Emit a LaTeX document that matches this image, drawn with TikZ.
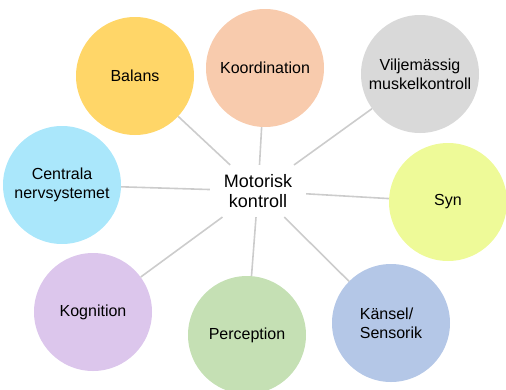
\documentclass[tikz,border=0pt]{standalone}
\usepackage{fontspec}
\setmainfont{Liberation Sans}
\definecolor{cBal}{RGB}{255,214,104}
\definecolor{cKoo}{RGB}{248,203,173}
\definecolor{cVil}{RGB}{217,217,217}
\definecolor{cSyn}{RGB}{238,250,152}
\definecolor{cCen}{RGB}{170,231,251}
\definecolor{cKog}{RGB}{220,198,236}
\definecolor{cPer}{RGB}{197,224,180}
\definecolor{cKan}{RGB}{180,199,231}
\definecolor{cLine}{RGB}{204,204,204}
\begin{document}
\begin{tikzpicture}[x=1pt,y=-1pt,
  bubble/.style={circle,minimum size=118pt,inner sep=0pt,align=center,
    font=\fontsize{16}{19}\selectfont},
  conn/.style={draw=cLine,line width=1.6pt}]
\useasboundingbox (0,0) rectangle (506,389);
\node[align=center,font=\fontsize{18}{20.5}\selectfont,inner xsep=14pt,inner ysep=9pt] (mk) at (258,191) {Motorisk\\kontroll};
\node[bubble,fill=cBal] (bal) at (135,76) {Balans};
\node[bubble,fill=cKoo] (koo) at (265,68) {Koordination};
\node[bubble,fill=cVil] (vil) at (420,74) {Viljemässig\\muskelkontroll};
\node[bubble,fill=cCen] (cen) at (62,185) {Centrala\\nervsystemet};
\node[bubble,fill=cSyn] (syn) at (448,202) {Syn};
\node[bubble,fill=cKog] (kog) at (93,312) {Kognition};
\node[bubble,fill=cPer] (per) at (247,335) {Perception};
\node[bubble,fill=cKan,align=left] (kan) at (391,323) {Känsel/\\Sensorik};
\foreach \n in {bal,koo,vil,cen,syn,kog,per,kan}{
  \draw[conn] (mk) -- (\n);
}
\end{tikzpicture}
\end{document}
